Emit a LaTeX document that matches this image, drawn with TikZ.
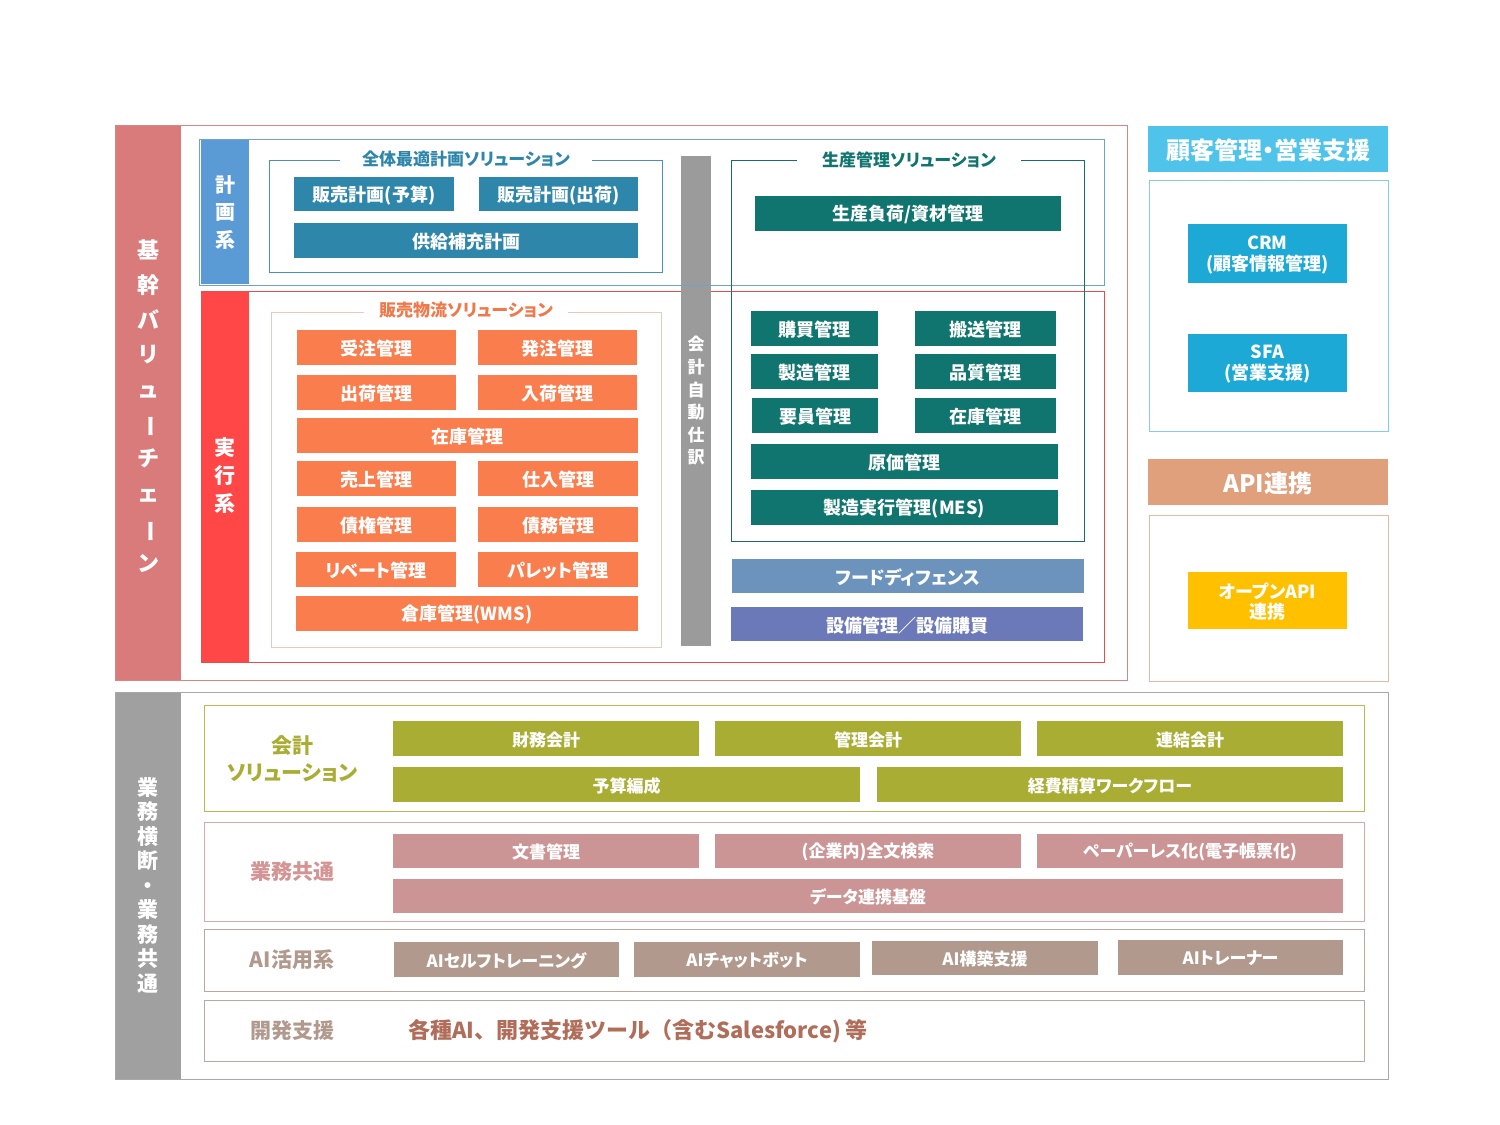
\documentclass[tikz,border=0pt]{standalone}
\usepackage{fontspec}
\setmainfont{Noto Sans CJK JP}[RawFeature=+palt]
\newfontfamily\jpmono{Noto Sans CJK JP}
\definecolor{cRedBar}{HTML}{D97B7B}
\definecolor{cRedLine}{HTML}{D98585}
\definecolor{cPlanBar}{HTML}{5B9BD5}
\definecolor{cPlanLine}{HTML}{6FA3C8}
\definecolor{cBlueBtn}{HTML}{2E86AB}
\definecolor{cBlueLine}{HTML}{4A90B8}
\definecolor{cExecBar}{HTML}{FF4747}
\definecolor{cExecLine}{HTML}{E05050}
\definecolor{cOrange}{HTML}{FA7D4D}
\definecolor{cOrangeTxt}{HTML}{F0784A}
\definecolor{cOrangeLine}{HTML}{E5CABD}
\definecolor{cGrayBar}{HTML}{9B9B9B}
\definecolor{cTeal}{HTML}{10756F}
\definecolor{cTealLine}{HTML}{1B6B6B}
\definecolor{cFood}{HTML}{6B93BB}
\definecolor{cEquip}{HTML}{6B79B9}
\definecolor{cCyanHead}{HTML}{4FC3EA}
\definecolor{cCyanBtn}{HTML}{1DA9D6}
\definecolor{cCyanLine}{HTML}{85CCE6}
\definecolor{cApiHead}{HTML}{E0A07C}
\definecolor{cApiLine}{HTML}{E0BBA5}
\definecolor{cYellow}{HTML}{FFC000}
\definecolor{cLowGray}{HTML}{A0A0A0}
\definecolor{cLowLine}{HTML}{A8A8A8}
\definecolor{cOlive}{HTML}{AAAD33}
\definecolor{cOliveLine}{HTML}{B8B855}
\definecolor{cPink}{HTML}{CC9595}
\definecolor{cPinkLine}{HTML}{D8AAAA}
\definecolor{cPinkTxt}{HTML}{D49494}
\definecolor{cAi}{HTML}{B19A8D}
\definecolor{cAiLine}{HTML}{B8A8A0}
\definecolor{cDevTxt}{HTML}{B06E5A}
% \bx{style}{name}{x1}{y1}{x2}{y2}{text}
\newcommand\bx[7]{%
  \pgfmathsetmacro\bxcx{(#3+#5)/2}%
  \pgfmathsetmacro\bxcy{(#4+#6)/2}%
  \pgfmathsetmacro\bxw{#5-#3}%
  \pgfmathsetmacro\bxh{#6-#4}%
  \fill[#1] (#3,#4) rectangle (#5,#6);%
  \node[#1, fill=none, minimum width=\bxw pt, minimum height=\bxh pt] (#2) at (\bxcx,\bxcy+1.2) {#7};}
\begin{document}
\begin{tikzpicture}[x=1pt,y=-1pt,
  bxs/.style={inner sep=0pt, outer sep=0pt, text=white, align=center,
    font=\bfseries\fontsize{18}{21}\selectfont},
  sbx/.style={bxs, font=\bfseries\fontsize{17}{20}\selectfont},
  frm/.style={line width=0.8pt},
  ttl/.style={fill=white, inner ysep=1pt, font=\bfseries\fontsize{17}{19}\selectfont},
  vtx/.style={text=white, align=center, inner sep=0pt},
  lbl/.style={align=center, inner sep=0pt, font=\bfseries\fontsize{21}{27}\selectfont},
]
\useasboundingbox (0,0) rectangle (1500,1125);

% ===== Top main area =====
\fill[cRedBar] (115,125) rectangle (181,680);
\draw[frm, draw=cRedLine] (115,125) rectangle (1127,680);
\node[vtx, font=\jpmono\bfseries\fontsize{22}{34.7}\selectfont] (kikan) at (148,406)
  {基\\幹\\バ\\リ\\ュ\\\rotatebox[origin=c]{-90}{ー}\\チ\\ェ\\\rotatebox[origin=c]{-90}{ー}\\ン};

% Planning
\fill[cPlanBar] (201,140) rectangle (249,284);
\draw[frm, draw=cPlanLine] (199,139) rectangle (1104,285);
\node[vtx, font=\bfseries\fontsize{20}{27.5}\selectfont] (keikaku) at (225,212) {計\\画\\系};
\draw[frm, draw=cBlueLine] (269,160) rectangle (662,272);
\node[ttl, text=cBlueBtn, inner xsep=22pt] (t1) at (466,159) {全体最適計画ソリューション};
\bx{bxs, fill=cBlueBtn}{p1}{294}{177}{454}{211}{販売計画(予算)}
\bx{bxs, fill=cBlueBtn}{p2}{479}{177}{638}{211}{販売計画(出荷)}
\bx{bxs, fill=cBlueBtn}{p3}{294}{223}{638}{258}{供給補充計画}

% Execution
\fill[cExecBar] (202,292) rectangle (249,662);
\draw[frm, draw=cExecLine] (201,291) rectangle (1104,662);
\node[vtx, font=\bfseries\fontsize{21}{28}\selectfont] (jikko) at (225,476) {実\\行\\系};
\draw[frm, draw=cOrangeLine] (271,312) rectangle (661,647);
\node[ttl, text=cOrangeTxt, inner xsep=15pt] (t2) at (466,310) {販売物流ソリューション};
\bx{bxs, fill=cOrange}{o1}{297}{330}{456}{365}{受注管理}
\bx{bxs, fill=cOrange}{o2}{478}{330}{637}{365}{発注管理}
\bx{bxs, fill=cOrange}{o3}{297}{375}{456}{410}{出荷管理}
\bx{bxs, fill=cOrange}{o4}{478}{375}{637}{410}{入荷管理}
\bx{bxs, fill=cOrange}{o5}{297}{418}{638}{453}{在庫管理}
\bx{bxs, fill=cOrange}{o6}{297}{461}{456}{496}{売上管理}
\bx{bxs, fill=cOrange}{o7}{478}{461}{638}{496}{仕入管理}
\bx{bxs, fill=cOrange}{o8}{297}{507}{456}{542}{債権管理}
\bx{bxs, fill=cOrange}{o9}{478}{507}{638}{542}{債務管理}
\bx{bxs, fill=cOrange}{o10}{296}{552}{456}{587}{リベート管理}
\bx{bxs, fill=cOrange}{o11}{478}{552}{638}{587}{パレット管理}
\bx{bxs, fill=cOrange}{o12}{296}{596}{638}{631}{倉庫管理(WMS)}

% Accounting auto journal bar
\fill[cGrayBar] (681,156) rectangle (711,646);
\draw[line width=0.8pt, draw=cPlanLine] (681,285) -- (711,285);
\node[vtx, font=\bfseries\fontsize{17}{22.6}\selectfont] (jidou) at (696,401) {会\\計\\自\\動\\仕\\訳};

% Production
\draw[frm, draw=cTealLine] (731,160) rectangle (1084,541);
\node[ttl, text=cTeal, inner xsep=25pt] (t3) at (909,160) {生産管理ソリューション};
\bx{bxs, fill=cTeal}{g0}{755}{196}{1061}{231}{生産負荷/資材管理}
\bx{bxs, fill=cTeal}{g1}{751}{311}{878}{346}{購買管理}
\bx{bxs, fill=cTeal}{g2}{915}{311}{1056}{346}{搬送管理}
\bx{bxs, fill=cTeal}{g3}{751}{354}{878}{389}{製造管理}
\bx{bxs, fill=cTeal}{g4}{915}{354}{1056}{389}{品質管理}
\bx{bxs, fill=cTeal}{g5}{752}{398}{878}{433}{要員管理}
\bx{bxs, fill=cTeal}{g6}{915}{398}{1056}{433}{在庫管理}
\bx{bxs, fill=cTeal}{g7}{751}{444}{1058}{479}{原価管理}
\bx{bxs, fill=cTeal}{g8}{751}{490}{1058}{525}{製造実行管理(MES)}
\bx{bxs, fill=cFood}{food}{732}{559}{1084}{593}{フードディフェンス}
\bx{bxs, fill=cEquip}{equip}{731}{607}{1083}{641}{設備管理／設備購買}

% ===== Right column =====
\bx{bxs, fill=cCyanHead, font=\bfseries\fontsize{24}{26}\selectfont}{crmh}{1148}{126}{1388}{172}{顧客管理・営業支援}
\draw[frm, draw=cCyanLine] (1149,180) rectangle (1388,431);
\bx{bxs, fill=cCyanBtn, font=\bfseries\fontsize{18}{21}\selectfont}{crm}{1188}{224}{1347}{283}{CRM\\(顧客情報管理)}
\bx{bxs, fill=cCyanBtn, font=\bfseries\fontsize{18}{21}\selectfont}{sfa}{1188}{334}{1347}{392}{SFA\\(営業支援)}
\bx{bxs, fill=cApiHead, font=\bfseries\fontsize{24}{26}\selectfont}{apih}{1148}{459}{1388}{505}{API連携}
\draw[frm, draw=cApiLine] (1149,515) rectangle (1388,681);
\bx{bxs, fill=cYellow, font=\bfseries\fontsize{18}{20}\selectfont}{api}{1188}{572}{1347}{629}{オープンAPI\\連携}

% ===== Bottom area =====
\fill[cLowGray] (115,692) rectangle (181,1079);
\draw[frm, draw=cLowLine] (115,692) rectangle (1388,1079);
\node[vtx, font=\jpmono\bfseries\fontsize{21}{24.5}\selectfont] (gyomu) at (148,885)
  {業\\務\\横\\断\\・\\業\\務\\共\\通};

% Accounting solution
\draw[frm, draw=cOliveLine] (204,705) rectangle (1364,811);
\node[lbl, text=cOlive] (kaikei) at (292,759) {会計\\ソリューション};
\bx{sbx, fill=cOlive}{a1}{393}{721}{699}{756}{財務会計}
\bx{sbx, fill=cOlive}{a2}{715}{721}{1021}{756}{管理会計}
\bx{sbx, fill=cOlive}{a3}{1037}{721}{1343}{756}{連結会計}
\bx{sbx, fill=cOlive}{a4}{393}{767}{860}{802}{予算編成}
\bx{sbx, fill=cOlive}{a5}{877}{767}{1343}{802}{経費精算ワークフロー}

% Common
\draw[frm, draw=cPinkLine] (204,822) rectangle (1364,921);
\node[lbl, text=cPinkTxt] (kyotsu) at (292,872) {業務共通};
\bx{sbx, fill=cPink}{c1}{393}{834}{699}{868}{文書管理}
\bx{sbx, fill=cPink}{c2}{715}{834}{1021}{868}{(企業内)全文検索}
\bx{sbx, fill=cPink}{c3}{1037}{834}{1343}{868}{ペーパーレス化(電子帳票化)}
\bx{sbx, fill=cPink}{c4}{393}{879}{1343}{913}{データ連携基盤}

% AI
\draw[frm, draw=cAiLine] (204,929) rectangle (1364,991);
\node[lbl, text=cAi] (ai) at (292,960) {AI活用系};
\bx{sbx, fill=cAi}{ai1}{394}{942}{619}{977}{AIセルフトレーニング}
\bx{sbx, fill=cAi}{ai2}{634}{942}{860}{977}{AIチャットボット}
\bx{sbx, fill=cAi}{ai3}{872}{941}{1098}{975}{AI構築支援}
\bx{sbx, fill=cAi}{ai4}{1118}{940}{1343}{975}{AIトレーナー}

% Dev support
\draw[frm, draw=cAiLine] (204,1000) rectangle (1364,1061);
\node[lbl, text=cAi] (dev) at (292,1031) {開発支援};
\node[anchor=west, inner sep=0pt, text=cDevTxt, font=\jpmono\bfseries\fontsize{22}{26}\selectfont] (devtxt) at (408,1031)
  {各種AI、開発支援ツール（含むSalesforce) 等};
\end{tikzpicture}
\end{document}
